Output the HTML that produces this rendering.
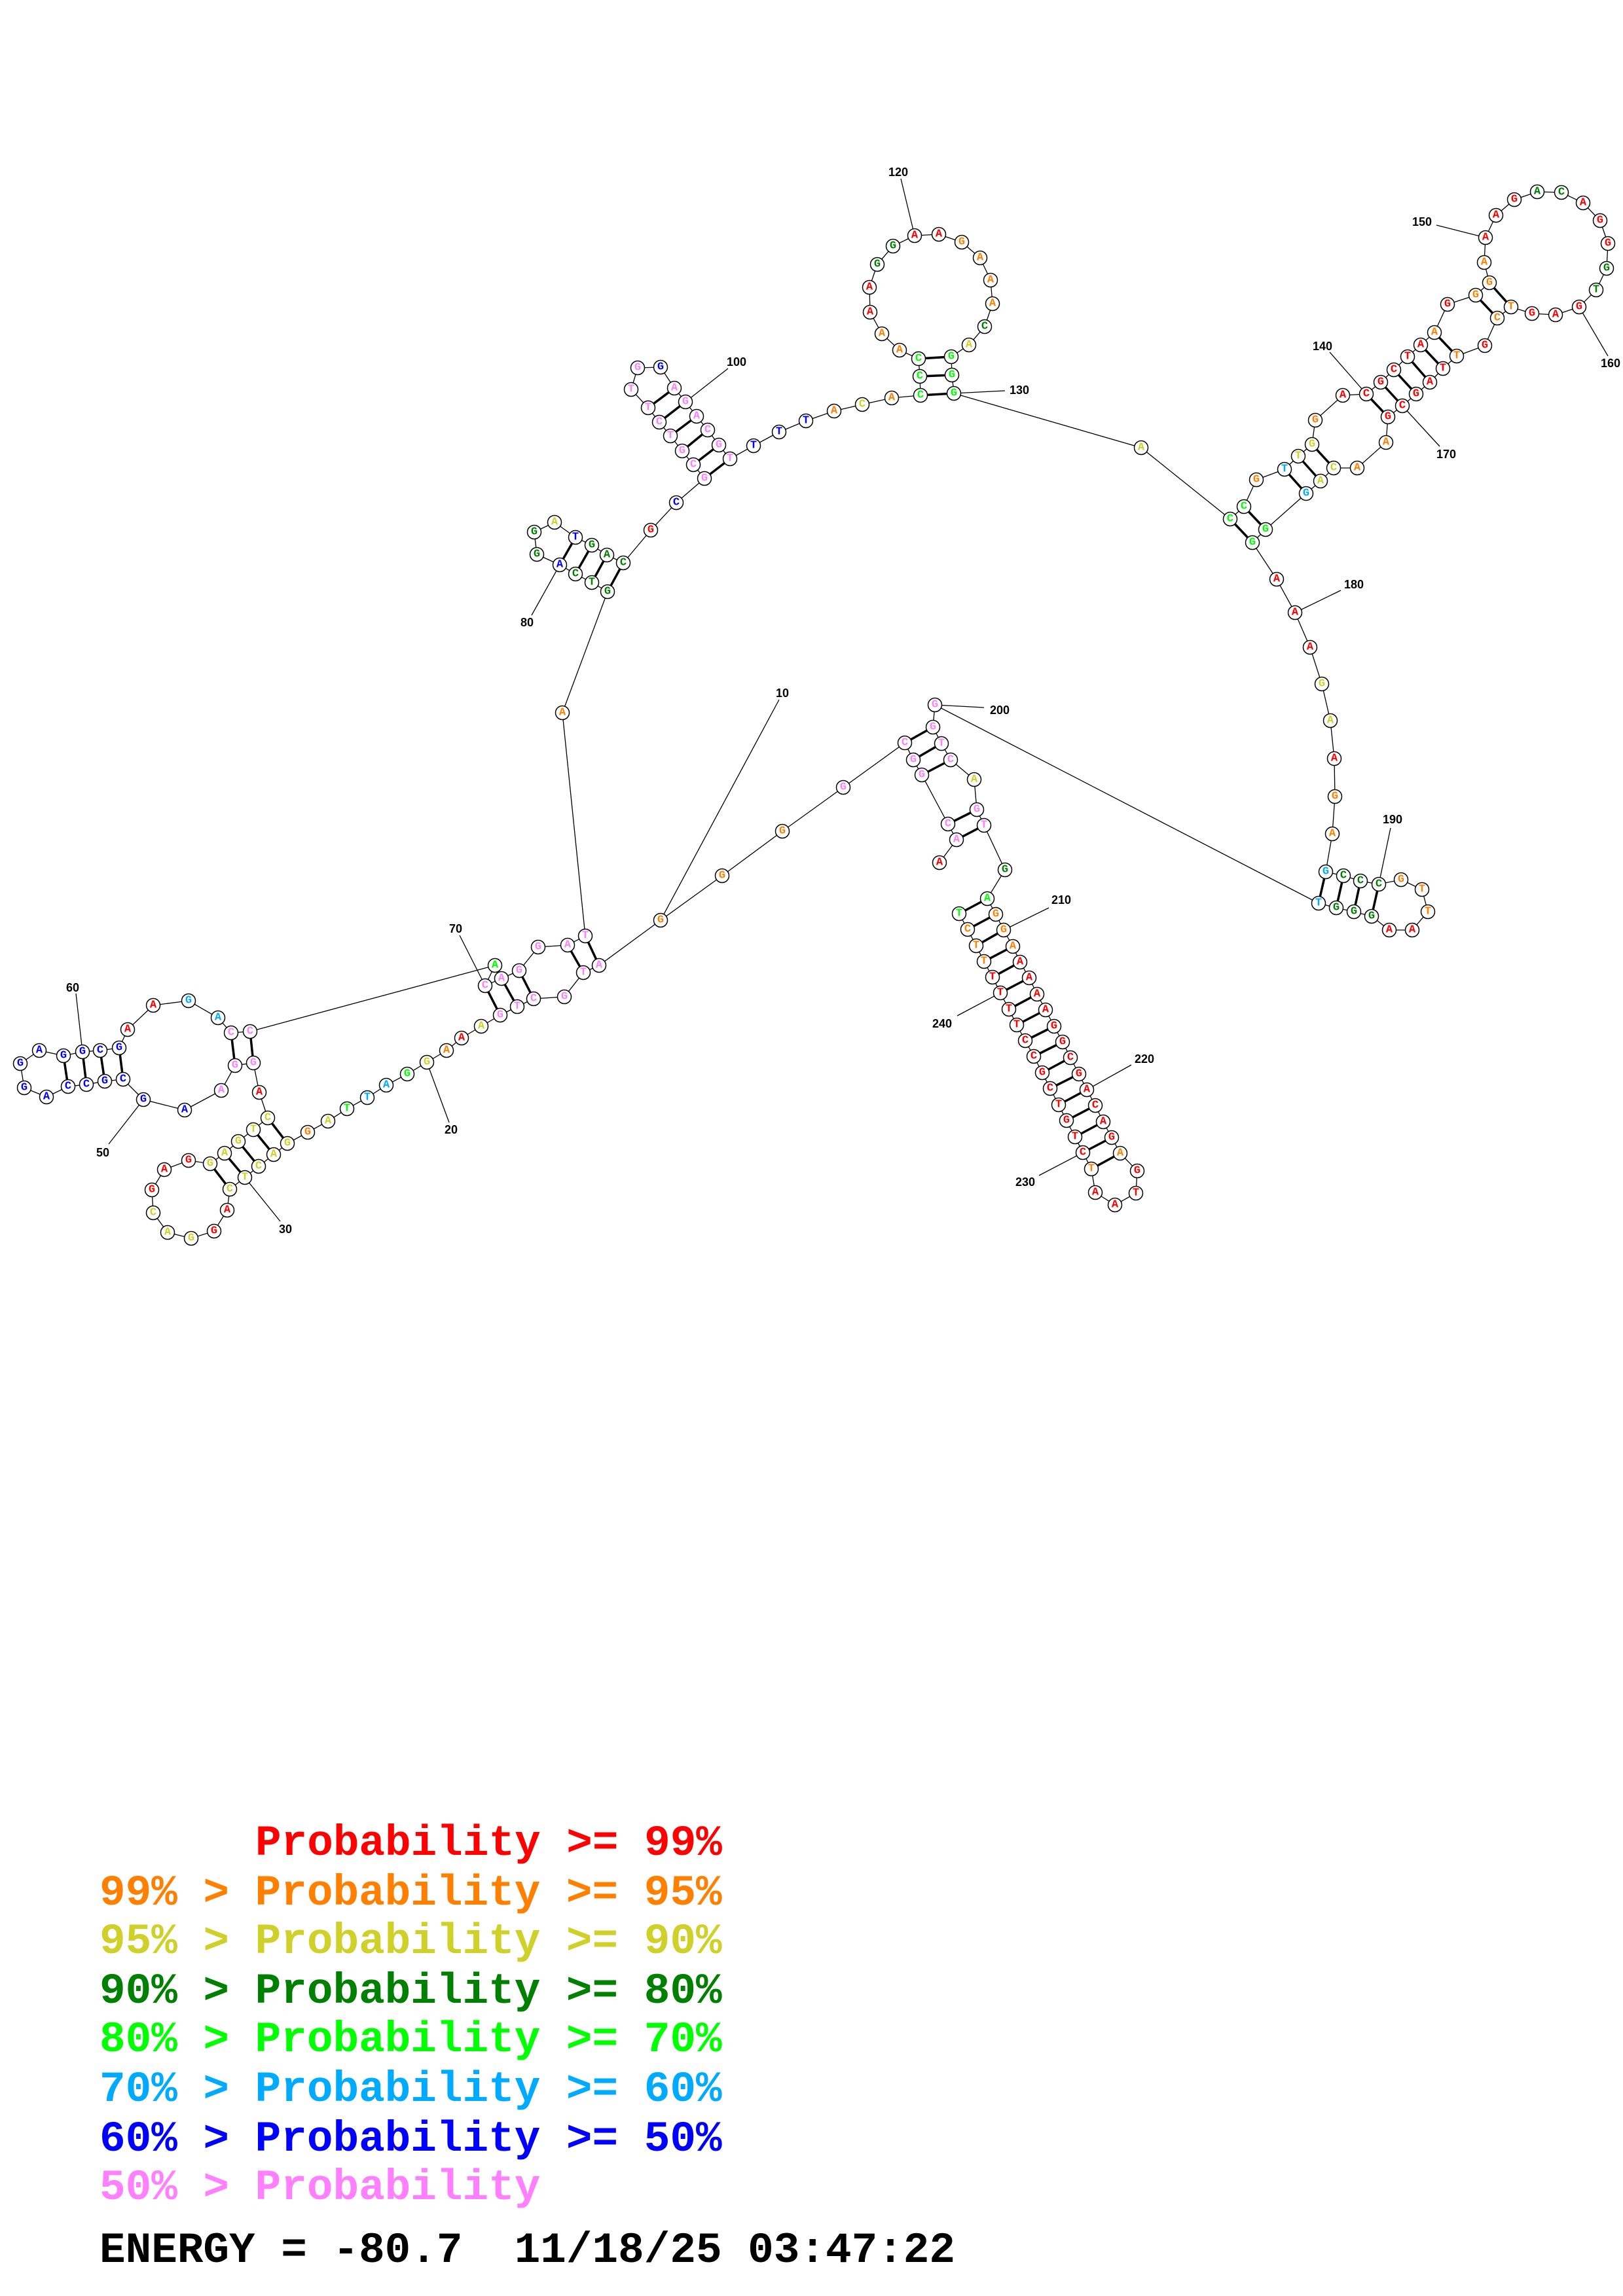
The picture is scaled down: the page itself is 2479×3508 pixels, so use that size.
<!DOCTYPE html>
<html><head><meta charset="utf-8"><style>
html,body{margin:0;padding:0;background:#fff}
svg{display:block}
.n circle{fill:#fff;stroke:#000;stroke-width:1.5}
.t text{font-family:"Liberation Mono",monospace;font-weight:bold;font-size:17px;text-anchor:middle;dominant-baseline:central}
.l text{font-family:"Liberation Sans",sans-serif;font-weight:bold;font-size:18px;text-anchor:middle;dominant-baseline:central;fill:#000}
.r{fill:#ff0000}.o{fill:#ff8000}.y{fill:#d0d02a}.d{fill:#008000}.g{fill:#00ff00}.c{fill:#00aaff}.b{fill:#0000ff}.p{fill:#ff80ff}
.lg{font-family:"Liberation Mono",monospace;font-weight:bold;font-size:66px}
</style></head><body>
<svg width="2479" height="3508" viewBox="0 0 2479 3508" xmlns="http://www.w3.org/2000/svg">
<g stroke="#000" stroke-width="1.3" fill="none">
<polyline points="1435,1318 1461,1283 1448,1259 1408,1184 1395,1161 1382,1135 1288,1203 1195,1270 1103,1338 1009,1406 915,1475 891,1486 862,1523 815,1526 790,1538 764,1551 735,1568 705,1586 682,1605 652,1623 622,1641 590,1658 561,1677 530,1694 501,1713 470,1730 439,1747 418,1764 395,1782 374,1799 351,1817 347,1849 327,1881 292,1892 256,1883 234,1853 232,1818 251,1787 288,1773 321,1778 343,1762 364,1744 387,1726 409,1708 396,1669 387,1624 359,1628 338,1666 282,1696 219,1680 188,1649 160,1652 132,1657 104,1660 71,1676 37,1662 31,1625 60,1605 97,1613 126,1607 153,1605 182,1601 195,1573 234,1536 288,1529 333,1555 353,1578 382,1576 756,1475 741,1506 766,1495 793,1483 822,1447 867,1444 894,1430 859,1089 928,904 904,890 879,877 855,863 820,847 816,813 847,798 879,821 904,833 927,848 952,860 994,810 1033,768 1076,731 1059,710 1042,689 1024,666 1007,645 990,623 964,595 974,562 1009,561 1030,593 1047,614 1064,636 1081,657 1098,680 1115,701 1151,681 1190,660 1231,643 1274,628 1317,618 1362,608 1406,604 1405,575 1403,548 1374,535 1347,510 1329,477 1328,439 1340,404 1364,376 1397,360 1434,358 1469,370 1497,394 1513,428 1516,464 1504,499 1480,527 1453,545 1454,573 1457,601 1743,684 1879,793 1900,774 1919,733 1962,717 1983,697 2004,679 2009,642 2051,604 2087,602 2109,584 2129,565 2150,545 2170,527 2191,508 2211,465 2254,451 2275,432 2267,401 2269,363 2285,329 2313,305 2348,293 2385,294 2418,310 2444,337 2456,372 2454,410 2438,443 2412,469 2376,481 2340,479 2308,469 2287,486 2268,528 2225,544 2204,563 2184,584 2163,602 2142,620 2120,637 2117,676 2073,715 2037,715 2017,735 1995,754 1933,809 1913,829 1950,885 1978,936 2001,989 2019,1045 2032,1101 2038,1159 2039,1217 2035,1274 2025,1332 2052,1338 2078,1346 2106,1351 2140,1344 2172,1359 2181,1393 2157,1421 2122,1421 2095,1400 2068,1393 2041,1387 2014,1380 1428,1077 1425,1111 1438,1136 1452,1161 1488,1191 1492,1237 1503,1261 1535,1329 1508,1373 1521,1397 1533,1421 1547,1446 1558,1470 1572,1494 1584,1519 1597,1543 1610,1568 1623,1592 1635,1616 1648,1641 1660,1665 1673,1689 1685,1714 1698,1738 1711,1762 1737,1789 1735,1823 1703,1841 1673,1822 1667,1786 1654,1761 1642,1737 1629,1712 1617,1688 1604,1663 1592,1639 1579,1614 1566,1590 1553,1566 1541,1542 1528,1517 1516,1493 1503,1469 1491,1445 1478,1420 1465,1396"/>
<!-- label lines -->
<path d="M1009,1406L1190,1069 M652,1623L686,1715 M374,1799L428,1866 M219,1680L166,1748 M126,1607L116,1518 M741,1506L702,1429 M855,863L812,940 M1047,614L1112,563 M1397,360L1376,273 M1457,601L1535,597 M2087,602L2031,538 M2269,363L2194,344 M2412,469L2456,544 M2142,620L2199,682 M1978,936L2048,902 M2106,1351L2124,1265 M1428,1077L1503,1081 M1533,1421L1602,1387 M1660,1665L1728,1627 M1654,1761L1587,1796 M1528,1517L1462,1552"/>
</g>
<g stroke="#000" stroke-width="3.5">
<path d="M1382,1135L1425,1111 M1395,1161L1438,1136 M1408,1184L1452,1161 M1448,1259L1492,1237 M1461,1283L1503,1261
M915,1475L894,1430 M891,1486L867,1444 M815,1526L793,1483 M790,1538L766,1495 M764,1551L741,1506
M439,1747L409,1708 M418,1764L387,1726 M395,1782L364,1744 M374,1799L343,1762 M351,1817L321,1778
M387,1624L382,1576 M359,1628L353,1578 M188,1649L182,1601 M160,1652L153,1605 M132,1657L126,1607 M104,1660L97,1613
M928,904L952,860 M904,890L927,848 M879,877L904,833 M855,863L879,821
M1076,731L1115,701 M1059,710L1098,680 M1042,689L1081,657 M1024,666L1064,636 M1007,645L1047,614 M990,623L1030,593
M1406,604L1457,601 M1405,575L1454,573 M1403,548L1453,545
M1879,793L1913,829 M1900,774L1933,809 M1962,717L1995,754 M1983,697L2017,735 M2004,679L2037,715
M2087,602L2120,637 M2109,584L2142,620 M2129,565L2163,602 M2150,545L2184,584 M2170,527L2204,563 M2191,508L2225,544 M2254,451L2287,486 M2275,432L2308,469
M2025,1332L2014,1380 M2052,1338L2041,1387 M2078,1346L2068,1393 M2106,1351L2095,1400
M1508,1373L1465,1396 M1521,1397L1478,1420 M1533,1421L1491,1445 M1547,1446L1503,1469 M1558,1470L1516,1493 M1572,1494L1528,1517 M1584,1519L1541,1542 M1597,1543L1553,1566 M1610,1568L1566,1590 M1623,1592L1579,1614 M1635,1616L1592,1639 M1648,1641L1604,1663 M1660,1665L1617,1688 M1673,1689L1629,1712 M1685,1714L1642,1737 M1698,1738L1654,1761 M1711,1762L1667,1786"/>
</g>
<g class="n">
<circle cx="1435" cy="1318" r="10.5"/><circle cx="1461" cy="1283" r="10.5"/><circle cx="1448" cy="1259" r="10.5"/><circle cx="1408" cy="1184" r="10.5"/><circle cx="1395" cy="1161" r="10.5"/><circle cx="1382" cy="1135" r="10.5"/><circle cx="1288" cy="1203" r="10.5"/><circle cx="1195" cy="1270" r="10.5"/><circle cx="1103" cy="1338" r="10.5"/><circle cx="1009" cy="1406" r="10.5"/>
<circle cx="915" cy="1475" r="10.5"/><circle cx="891" cy="1486" r="10.5"/><circle cx="862" cy="1523" r="10.5"/><circle cx="815" cy="1526" r="10.5"/><circle cx="790" cy="1538" r="10.5"/><circle cx="764" cy="1551" r="10.5"/><circle cx="735" cy="1568" r="10.5"/><circle cx="705" cy="1586" r="10.5"/><circle cx="682" cy="1605" r="10.5"/><circle cx="652" cy="1623" r="10.5"/>
<circle cx="622" cy="1641" r="10.5"/><circle cx="590" cy="1658" r="10.5"/><circle cx="561" cy="1677" r="10.5"/><circle cx="530" cy="1694" r="10.5"/><circle cx="501" cy="1713" r="10.5"/><circle cx="470" cy="1730" r="10.5"/><circle cx="439" cy="1747" r="10.5"/><circle cx="418" cy="1764" r="10.5"/><circle cx="395" cy="1782" r="10.5"/><circle cx="374" cy="1799" r="10.5"/>
<circle cx="351" cy="1817" r="10.5"/><circle cx="347" cy="1849" r="10.5"/><circle cx="327" cy="1881" r="10.5"/><circle cx="292" cy="1892" r="10.5"/><circle cx="256" cy="1883" r="10.5"/><circle cx="234" cy="1853" r="10.5"/><circle cx="232" cy="1818" r="10.5"/><circle cx="251" cy="1787" r="10.5"/><circle cx="288" cy="1773" r="10.5"/><circle cx="321" cy="1778" r="10.5"/>
<circle cx="343" cy="1762" r="10.5"/><circle cx="364" cy="1744" r="10.5"/><circle cx="387" cy="1726" r="10.5"/><circle cx="409" cy="1708" r="10.5"/><circle cx="396" cy="1669" r="10.5"/><circle cx="387" cy="1624" r="10.5"/><circle cx="359" cy="1628" r="10.5"/><circle cx="338" cy="1666" r="10.5"/><circle cx="282" cy="1696" r="10.5"/><circle cx="219" cy="1680" r="10.5"/>
<circle cx="188" cy="1649" r="10.5"/><circle cx="160" cy="1652" r="10.5"/><circle cx="132" cy="1657" r="10.5"/><circle cx="104" cy="1660" r="10.5"/><circle cx="71" cy="1676" r="10.5"/><circle cx="37" cy="1662" r="10.5"/><circle cx="31" cy="1625" r="10.5"/><circle cx="60" cy="1605" r="10.5"/><circle cx="97" cy="1613" r="10.5"/><circle cx="126" cy="1607" r="10.5"/>
<circle cx="153" cy="1605" r="10.5"/><circle cx="182" cy="1601" r="10.5"/><circle cx="195" cy="1573" r="10.5"/><circle cx="234" cy="1536" r="10.5"/><circle cx="288" cy="1529" r="10.5"/><circle cx="333" cy="1555" r="10.5"/><circle cx="353" cy="1578" r="10.5"/><circle cx="382" cy="1576" r="10.5"/><circle cx="756" cy="1475" r="10.5"/><circle cx="741" cy="1506" r="10.5"/>
<circle cx="766" cy="1495" r="10.5"/><circle cx="793" cy="1483" r="10.5"/><circle cx="822" cy="1447" r="10.5"/><circle cx="867" cy="1444" r="10.5"/><circle cx="894" cy="1430" r="10.5"/><circle cx="859" cy="1089" r="10.5"/><circle cx="928" cy="904" r="10.5"/><circle cx="904" cy="890" r="10.5"/><circle cx="879" cy="877" r="10.5"/><circle cx="855" cy="863" r="10.5"/>
<circle cx="820" cy="847" r="10.5"/><circle cx="816" cy="813" r="10.5"/><circle cx="847" cy="798" r="10.5"/><circle cx="879" cy="821" r="10.5"/><circle cx="904" cy="833" r="10.5"/><circle cx="927" cy="848" r="10.5"/><circle cx="952" cy="860" r="10.5"/><circle cx="994" cy="810" r="10.5"/><circle cx="1033" cy="768" r="10.5"/><circle cx="1076" cy="731" r="10.5"/>
<circle cx="1059" cy="710" r="10.5"/><circle cx="1042" cy="689" r="10.5"/><circle cx="1024" cy="666" r="10.5"/><circle cx="1007" cy="645" r="10.5"/><circle cx="990" cy="623" r="10.5"/><circle cx="964" cy="595" r="10.5"/><circle cx="974" cy="562" r="10.5"/><circle cx="1009" cy="561" r="10.5"/><circle cx="1030" cy="593" r="10.5"/><circle cx="1047" cy="614" r="10.5"/>
<circle cx="1064" cy="636" r="10.5"/><circle cx="1081" cy="657" r="10.5"/><circle cx="1098" cy="680" r="10.5"/><circle cx="1115" cy="701" r="10.5"/><circle cx="1151" cy="681" r="10.5"/><circle cx="1190" cy="660" r="10.5"/><circle cx="1231" cy="643" r="10.5"/><circle cx="1274" cy="628" r="10.5"/><circle cx="1317" cy="618" r="10.5"/><circle cx="1362" cy="608" r="10.5"/>
<circle cx="1406" cy="604" r="10.5"/><circle cx="1405" cy="575" r="10.5"/><circle cx="1403" cy="548" r="10.5"/><circle cx="1374" cy="535" r="10.5"/><circle cx="1347" cy="510" r="10.5"/><circle cx="1329" cy="477" r="10.5"/><circle cx="1328" cy="439" r="10.5"/><circle cx="1340" cy="404" r="10.5"/><circle cx="1364" cy="376" r="10.5"/><circle cx="1397" cy="360" r="10.5"/>
<circle cx="1434" cy="358" r="10.5"/><circle cx="1469" cy="370" r="10.5"/><circle cx="1497" cy="394" r="10.5"/><circle cx="1513" cy="428" r="10.5"/><circle cx="1516" cy="464" r="10.5"/><circle cx="1504" cy="499" r="10.5"/><circle cx="1480" cy="527" r="10.5"/><circle cx="1453" cy="545" r="10.5"/><circle cx="1454" cy="573" r="10.5"/><circle cx="1457" cy="601" r="10.5"/>
<circle cx="1743" cy="684" r="10.5"/><circle cx="1879" cy="793" r="10.5"/><circle cx="1900" cy="774" r="10.5"/><circle cx="1919" cy="733" r="10.5"/><circle cx="1962" cy="717" r="10.5"/><circle cx="1983" cy="697" r="10.5"/><circle cx="2004" cy="679" r="10.5"/><circle cx="2009" cy="642" r="10.5"/><circle cx="2051" cy="604" r="10.5"/><circle cx="2087" cy="602" r="10.5"/>
<circle cx="2109" cy="584" r="10.5"/><circle cx="2129" cy="565" r="10.5"/><circle cx="2150" cy="545" r="10.5"/><circle cx="2170" cy="527" r="10.5"/><circle cx="2191" cy="508" r="10.5"/><circle cx="2211" cy="465" r="10.5"/><circle cx="2254" cy="451" r="10.5"/><circle cx="2275" cy="432" r="10.5"/><circle cx="2267" cy="401" r="10.5"/><circle cx="2269" cy="363" r="10.5"/>
<circle cx="2285" cy="329" r="10.5"/><circle cx="2313" cy="305" r="10.5"/><circle cx="2348" cy="293" r="10.5"/><circle cx="2385" cy="294" r="10.5"/><circle cx="2418" cy="310" r="10.5"/><circle cx="2444" cy="337" r="10.5"/><circle cx="2456" cy="372" r="10.5"/><circle cx="2454" cy="410" r="10.5"/><circle cx="2438" cy="443" r="10.5"/><circle cx="2412" cy="469" r="10.5"/>
<circle cx="2376" cy="481" r="10.5"/><circle cx="2340" cy="479" r="10.5"/><circle cx="2308" cy="469" r="10.5"/><circle cx="2287" cy="486" r="10.5"/><circle cx="2268" cy="528" r="10.5"/><circle cx="2225" cy="544" r="10.5"/><circle cx="2204" cy="563" r="10.5"/><circle cx="2184" cy="584" r="10.5"/><circle cx="2163" cy="602" r="10.5"/><circle cx="2142" cy="620" r="10.5"/>
<circle cx="2120" cy="637" r="10.5"/><circle cx="2117" cy="676" r="10.5"/><circle cx="2073" cy="715" r="10.5"/><circle cx="2037" cy="715" r="10.5"/><circle cx="2017" cy="735" r="10.5"/><circle cx="1995" cy="754" r="10.5"/><circle cx="1933" cy="809" r="10.5"/><circle cx="1913" cy="829" r="10.5"/><circle cx="1950" cy="885" r="10.5"/><circle cx="1978" cy="936" r="10.5"/>
<circle cx="2001" cy="989" r="10.5"/><circle cx="2019" cy="1045" r="10.5"/><circle cx="2032" cy="1101" r="10.5"/><circle cx="2038" cy="1159" r="10.5"/><circle cx="2039" cy="1217" r="10.5"/><circle cx="2035" cy="1274" r="10.5"/><circle cx="2025" cy="1332" r="10.5"/><circle cx="2052" cy="1338" r="10.5"/><circle cx="2078" cy="1346" r="10.5"/><circle cx="2106" cy="1351" r="10.5"/>
<circle cx="2140" cy="1344" r="10.5"/><circle cx="2172" cy="1359" r="10.5"/><circle cx="2181" cy="1393" r="10.5"/><circle cx="2157" cy="1421" r="10.5"/><circle cx="2122" cy="1421" r="10.5"/><circle cx="2095" cy="1400" r="10.5"/><circle cx="2068" cy="1393" r="10.5"/><circle cx="2041" cy="1387" r="10.5"/><circle cx="2014" cy="1380" r="10.5"/><circle cx="1428" cy="1077" r="10.5"/>
<circle cx="1425" cy="1111" r="10.5"/><circle cx="1438" cy="1136" r="10.5"/><circle cx="1452" cy="1161" r="10.5"/><circle cx="1488" cy="1191" r="10.5"/><circle cx="1492" cy="1237" r="10.5"/><circle cx="1503" cy="1261" r="10.5"/><circle cx="1535" cy="1329" r="10.5"/><circle cx="1508" cy="1373" r="10.5"/><circle cx="1521" cy="1397" r="10.5"/><circle cx="1533" cy="1421" r="10.5"/>
<circle cx="1547" cy="1446" r="10.5"/><circle cx="1558" cy="1470" r="10.5"/><circle cx="1572" cy="1494" r="10.5"/><circle cx="1584" cy="1519" r="10.5"/><circle cx="1597" cy="1543" r="10.5"/><circle cx="1610" cy="1568" r="10.5"/><circle cx="1623" cy="1592" r="10.5"/><circle cx="1635" cy="1616" r="10.5"/><circle cx="1648" cy="1641" r="10.5"/><circle cx="1660" cy="1665" r="10.5"/>
<circle cx="1673" cy="1689" r="10.5"/><circle cx="1685" cy="1714" r="10.5"/><circle cx="1698" cy="1738" r="10.5"/><circle cx="1711" cy="1762" r="10.5"/><circle cx="1737" cy="1789" r="10.5"/><circle cx="1735" cy="1823" r="10.5"/><circle cx="1703" cy="1841" r="10.5"/><circle cx="1673" cy="1822" r="10.5"/><circle cx="1667" cy="1786" r="10.5"/><circle cx="1654" cy="1761" r="10.5"/>
<circle cx="1642" cy="1737" r="10.5"/><circle cx="1629" cy="1712" r="10.5"/><circle cx="1617" cy="1688" r="10.5"/><circle cx="1604" cy="1663" r="10.5"/><circle cx="1592" cy="1639" r="10.5"/><circle cx="1579" cy="1614" r="10.5"/><circle cx="1566" cy="1590" r="10.5"/><circle cx="1553" cy="1566" r="10.5"/><circle cx="1541" cy="1542" r="10.5"/><circle cx="1528" cy="1517" r="10.5"/>
<circle cx="1516" cy="1493" r="10.5"/><circle cx="1503" cy="1469" r="10.5"/><circle cx="1491" cy="1445" r="10.5"/><circle cx="1478" cy="1420" r="10.5"/><circle cx="1465" cy="1396" r="10.5"/>
</g>
<g class="t">
<text x="1435" y="1318" class="r">A</text><text x="1461" y="1283" class="p">A</text><text x="1448" y="1259" class="p">C</text><text x="1408" y="1184" class="p">G</text><text x="1395" y="1161" class="p">G</text><text x="1382" y="1135" class="p">C</text><text x="1288" y="1203" class="p">G</text><text x="1195" y="1270" class="o">G</text><text x="1103" y="1338" class="o">G</text><text x="1009" y="1406" class="o">G</text>
<text x="915" y="1475" class="p">A</text><text x="891" y="1486" class="p">T</text><text x="862" y="1523" class="p">G</text><text x="815" y="1526" class="p">C</text><text x="790" y="1538" class="p">T</text><text x="764" y="1551" class="p">G</text><text x="735" y="1568" class="y">A</text><text x="705" y="1586" class="r">A</text><text x="682" y="1605" class="o">A</text><text x="652" y="1623" class="y">G</text>
<text x="622" y="1641" class="g">G</text><text x="590" y="1658" class="c">A</text><text x="561" y="1677" class="c">T</text><text x="530" y="1694" class="g">T</text><text x="501" y="1713" class="y">A</text><text x="470" y="1730" class="o">G</text><text x="439" y="1747" class="y">G</text><text x="418" y="1764" class="y">A</text><text x="395" y="1782" class="y">C</text><text x="374" y="1799" class="y">T</text>
<text x="351" y="1817" class="y">C</text><text x="347" y="1849" class="r">A</text><text x="327" y="1881" class="r">G</text><text x="292" y="1892" class="y">G</text><text x="256" y="1883" class="y">A</text><text x="234" y="1853" class="y">C</text><text x="232" y="1818" class="r">G</text><text x="251" y="1787" class="r">A</text><text x="288" y="1773" class="r">G</text><text x="321" y="1778" class="y">G</text>
<text x="343" y="1762" class="y">A</text><text x="364" y="1744" class="y">G</text><text x="387" y="1726" class="y">T</text><text x="409" y="1708" class="y">C</text><text x="396" y="1669" class="r">A</text><text x="387" y="1624" class="p">G</text><text x="359" y="1628" class="p">G</text><text x="338" y="1666" class="p">A</text><text x="282" y="1696" class="b">A</text><text x="219" y="1680" class="b">G</text>
<text x="188" y="1649" class="b">C</text><text x="160" y="1652" class="b">G</text><text x="132" y="1657" class="b">C</text><text x="104" y="1660" class="b">C</text><text x="71" y="1676" class="b">A</text><text x="37" y="1662" class="b">G</text><text x="31" y="1625" class="b">G</text><text x="60" y="1605" class="b">A</text><text x="97" y="1613" class="b">G</text><text x="126" y="1607" class="b">G</text>
<text x="153" y="1605" class="b">C</text><text x="182" y="1601" class="b">G</text><text x="195" y="1573" class="r">A</text><text x="234" y="1536" class="r">A</text><text x="288" y="1529" class="c">G</text><text x="333" y="1555" class="c">A</text><text x="353" y="1578" class="p">C</text><text x="382" y="1576" class="p">C</text><text x="756" y="1475" class="g">A</text><text x="741" y="1506" class="p">C</text>
<text x="766" y="1495" class="p">A</text><text x="793" y="1483" class="p">G</text><text x="822" y="1447" class="p">G</text><text x="867" y="1444" class="p">A</text><text x="894" y="1430" class="p">T</text><text x="859" y="1089" class="o">A</text><text x="928" y="904" class="d">G</text><text x="904" y="890" class="d">T</text><text x="879" y="877" class="d">C</text><text x="855" y="863" class="b">A</text>
<text x="820" y="847" class="d">G</text><text x="816" y="813" class="d">G</text><text x="847" y="798" class="y">A</text><text x="879" y="821" class="b">T</text><text x="904" y="833" class="d">G</text><text x="927" y="848" class="d">A</text><text x="952" y="860" class="d">C</text><text x="994" y="810" class="r">G</text><text x="1033" y="768" class="b">C</text><text x="1076" y="731" class="p">G</text>
<text x="1059" y="710" class="p">C</text><text x="1042" y="689" class="p">G</text><text x="1024" y="666" class="p">T</text><text x="1007" y="645" class="p">C</text><text x="990" y="623" class="p">T</text><text x="964" y="595" class="p">T</text><text x="974" y="562" class="p">G</text><text x="1009" y="561" class="b">G</text><text x="1030" y="593" class="p">A</text><text x="1047" y="614" class="p">G</text>
<text x="1064" y="636" class="p">A</text><text x="1081" y="657" class="p">C</text><text x="1098" y="680" class="p">G</text><text x="1115" y="701" class="p">T</text><text x="1151" y="681" class="b">T</text><text x="1190" y="660" class="b">T</text><text x="1231" y="643" class="b">T</text><text x="1274" y="628" class="o">A</text><text x="1317" y="618" class="y">C</text><text x="1362" y="608" class="o">A</text>
<text x="1406" y="604" class="g">C</text><text x="1405" y="575" class="g">C</text><text x="1403" y="548" class="g">C</text><text x="1374" y="535" class="o">A</text><text x="1347" y="510" class="o">A</text><text x="1329" y="477" class="r">A</text><text x="1328" y="439" class="r">A</text><text x="1340" y="404" class="d">G</text><text x="1364" y="376" class="d">G</text><text x="1397" y="360" class="r">A</text>
<text x="1434" y="358" class="r">A</text><text x="1469" y="370" class="o">G</text><text x="1497" y="394" class="o">A</text><text x="1513" y="428" class="o">A</text><text x="1516" y="464" class="o">A</text><text x="1504" y="499" class="d">C</text><text x="1480" y="527" class="y">A</text><text x="1453" y="545" class="g">G</text><text x="1454" y="573" class="g">G</text><text x="1457" y="601" class="g">G</text>
<text x="1743" y="684" class="y">A</text><text x="1879" y="793" class="g">C</text><text x="1900" y="774" class="g">C</text><text x="1919" y="733" class="o">G</text><text x="1962" y="717" class="c">T</text><text x="1983" y="697" class="y">T</text><text x="2004" y="679" class="y">G</text><text x="2009" y="642" class="o">G</text><text x="2051" y="604" class="r">A</text><text x="2087" y="602" class="r">C</text>
<text x="2109" y="584" class="r">G</text><text x="2129" y="565" class="r">C</text><text x="2150" y="545" class="r">T</text><text x="2170" y="527" class="r">A</text><text x="2191" y="508" class="o">A</text><text x="2211" y="465" class="r">G</text><text x="2254" y="451" class="o">G</text><text x="2275" y="432" class="o">G</text><text x="2267" y="401" class="o">A</text><text x="2269" y="363" class="r">A</text>
<text x="2285" y="329" class="r">A</text><text x="2313" y="305" class="r">G</text><text x="2348" y="293" class="d">A</text><text x="2385" y="294" class="d">C</text><text x="2418" y="310" class="r">A</text><text x="2444" y="337" class="r">G</text><text x="2456" y="372" class="r">G</text><text x="2454" y="410" class="d">G</text><text x="2438" y="443" class="d">T</text><text x="2412" y="469" class="r">G</text>
<text x="2376" y="481" class="r">A</text><text x="2340" y="479" class="r">G</text><text x="2308" y="469" class="o">T</text><text x="2287" y="486" class="o">C</text><text x="2268" y="528" class="r">G</text><text x="2225" y="544" class="o">T</text><text x="2204" y="563" class="r">T</text><text x="2184" y="584" class="r">A</text><text x="2163" y="602" class="r">G</text><text x="2142" y="620" class="r">C</text>
<text x="2120" y="637" class="r">G</text><text x="2117" y="676" class="o">A</text><text x="2073" y="715" class="o">A</text><text x="2037" y="715" class="y">C</text><text x="2017" y="735" class="y">A</text><text x="1995" y="754" class="c">G</text><text x="1933" y="809" class="g">G</text><text x="1913" y="829" class="g">G</text><text x="1950" y="885" class="r">A</text><text x="1978" y="936" class="r">A</text>
<text x="2001" y="989" class="r">A</text><text x="2019" y="1045" class="y">G</text><text x="2032" y="1101" class="y">A</text><text x="2038" y="1159" class="r">A</text><text x="2039" y="1217" class="o">G</text><text x="2035" y="1274" class="o">A</text><text x="2025" y="1332" class="c">G</text><text x="2052" y="1338" class="d">C</text><text x="2078" y="1346" class="d">C</text><text x="2106" y="1351" class="d">C</text>
<text x="2140" y="1344" class="o">G</text><text x="2172" y="1359" class="o">T</text><text x="2181" y="1393" class="o">T</text><text x="2157" y="1421" class="r">A</text><text x="2122" y="1421" class="r">A</text><text x="2095" y="1400" class="d">G</text><text x="2068" y="1393" class="d">G</text><text x="2041" y="1387" class="d">G</text><text x="2014" y="1380" class="c">T</text><text x="1428" y="1077" class="p">G</text>
<text x="1425" y="1111" class="p">G</text><text x="1438" y="1136" class="p">T</text><text x="1452" y="1161" class="p">C</text><text x="1488" y="1191" class="y">A</text><text x="1492" y="1237" class="p">G</text><text x="1503" y="1261" class="p">T</text><text x="1535" y="1329" class="d">G</text><text x="1508" y="1373" class="g">A</text><text x="1521" y="1397" class="o">G</text><text x="1533" y="1421" class="o">G</text>
<text x="1547" y="1446" class="o">A</text><text x="1558" y="1470" class="r">A</text><text x="1572" y="1494" class="r">A</text><text x="1584" y="1519" class="r">A</text><text x="1597" y="1543" class="r">A</text><text x="1610" y="1568" class="r">G</text><text x="1623" y="1592" class="r">G</text><text x="1635" y="1616" class="r">C</text><text x="1648" y="1641" class="r">G</text><text x="1660" y="1665" class="r">A</text>
<text x="1673" y="1689" class="r">C</text><text x="1685" y="1714" class="r">A</text><text x="1698" y="1738" class="r">G</text><text x="1711" y="1762" class="o">A</text><text x="1737" y="1789" class="r">G</text><text x="1735" y="1823" class="r">T</text><text x="1703" y="1841" class="r">A</text><text x="1673" y="1822" class="r">A</text><text x="1667" y="1786" class="o">T</text><text x="1654" y="1761" class="r">C</text>
<text x="1642" y="1737" class="r">T</text><text x="1629" y="1712" class="r">G</text><text x="1617" y="1688" class="r">T</text><text x="1604" y="1663" class="r">C</text><text x="1592" y="1639" class="r">G</text><text x="1579" y="1614" class="r">C</text><text x="1566" y="1590" class="r">C</text><text x="1553" y="1566" class="r">T</text><text x="1541" y="1542" class="r">T</text><text x="1528" y="1517" class="r">T</text>
<text x="1516" y="1493" class="r">T</text><text x="1503" y="1469" class="o">T</text><text x="1491" y="1445" class="o">T</text><text x="1478" y="1420" class="o">C</text><text x="1465" y="1396" class="g">T</text>
</g>
<g class="l">
<text x="1195" y="1059">10</text><text x="689" y="1726">20</text><text x="436" y="1878">30</text><text x="157" y="1761">50</text><text x="111" y="1509">60</text><text x="696" y="1419">70</text><text x="805" y="951">80</text><text x="1125" y="553">100</text><text x="1372" y="263">120</text><text x="1557" y="596">130</text><text x="2020" y="529">140</text><text x="2172" y="339">150</text><text x="2460" y="555">160</text><text x="2209" y="694">170</text><text x="2068" y="893">180</text><text x="2127" y="1252">190</text><text x="1527" y="1085">200</text><text x="1621" y="1375">210</text><text x="1748" y="1618">220</text><text x="1566" y="1806">230</text><text x="1439" y="1564">240</text>
</g>
<text class="lg" x="390" y="2834" fill="#ff0000">Probability &gt;= 99%</text>
<text class="lg" x="152" y="2910" fill="#ff8000">99% &gt; Probability &gt;= 95%</text>
<text class="lg" x="152" y="2984" fill="#d0d02a">95% &gt; Probability &gt;= 90%</text>
<text class="lg" x="152" y="3060" fill="#008000">90% &gt; Probability &gt;= 80%</text>
<text class="lg" x="152" y="3134" fill="#00ff00">80% &gt; Probability &gt;= 70%</text>
<text class="lg" x="152" y="3210" fill="#00aaff">70% &gt; Probability &gt;= 60%</text>
<text class="lg" x="152" y="3286" fill="#0000ff">60% &gt; Probability &gt;= 50%</text>
<text class="lg" x="152" y="3360" fill="#ff80ff">50% &gt; Probability</text>
<text class="lg" x="152" y="3456" fill="#000" xml:space="preserve">ENERGY = -80.7  11/18/25 03:47:22</text>
</svg>
</body></html>
